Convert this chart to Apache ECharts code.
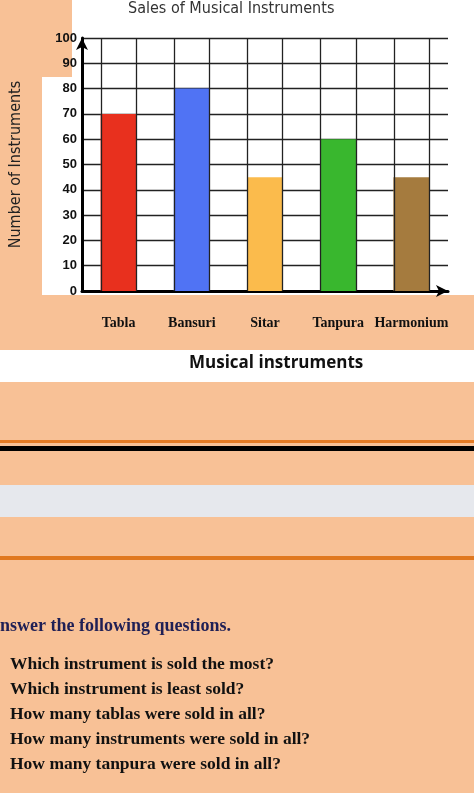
<!DOCTYPE html>
<html>
<head>
<meta charset="utf-8">
<script src="https://cdn.jsdelivr.net/npm/echarts@6/dist/echarts.min.js"></script>
<style>
    html, body {margin: 0; padding: 0; background: #f8c196;}
    .bg {position: absolute;}
    #main {position: absolute; left: 0; top: 0; width: 474px; height: 793px;}
</style>
</head>
<body>
<!-- 背景色块 -->
<div class="bg" style="left:72px;top:0;width:402px;height:295px;background:#fff"></div>
<div class="bg" style="left:42px;top:77px;width:30px;height:218px;background:#fff"></div>
<div class="bg" style="left:0;top:350px;width:474px;height:32px;background:#fff"></div>
<div class="bg" style="left:0;top:440px;width:474px;height:3px;background:#e47b25"></div>
<div class="bg" style="left:0;top:446px;width:474px;height:5px;background:#000"></div>
<div class="bg" style="left:0;top:485px;width:474px;height:32px;background:#e6e8ed"></div>
<div class="bg" style="left:0;top:556px;width:474px;height:4px;background:#e07820"></div>
<div id="main"></div>
<script>
var categories = ['Tabla', 'Bansuri', 'Sitar', 'Tanpura', 'Harmonium'];
var sales = [70, 80, 45, 60, 45];
var barColors = ['#e8301e', '#5073f4', '#fbbb4c', '#39b72e', '#a57b3e'];
var questions = [
    'Which instrument is sold the most?',
    'Which instrument is least sold?',
    'How many tablas were sold in all?',
    'How many instruments were sold in all?',
    'How many tanpura were sold in all?'
];

var chart = echarts.init(document.getElementById('main'));

//竖向网格线：每根柱子的左右边
var edgeLines = [];
categories.forEach(function (c, i) {
    edgeLines.push({xAxis: i - 0.24}, {xAxis: i + 0.24});
});

var graphics = [
    {type: 'text', left: 128, top: 1, style: {text: 'Sales of Musical Instruments', fill: '#333',
        font: '16px "DejaVu Sans Condensed"'}},
    {type: 'text', left: 189, top: 355, style: {text: 'Musical instruments', fill: '#111',
        font: 'bold 17px "Open Sans"'}},
    {type: 'text', left: 0, top: 617, style: {text: 'nswer the following questions.', fill: '#1f1f55',
        font: 'bold 18px "Liberation Serif"'}}
];
questions.forEach(function (q, i) {
    graphics.push({type: 'text', left: 10, top: 655 + i * 25.2,
        style: {text: q, fill: '#111', font: 'bold 17.5px "Liberation Serif"'}});
});

var option = {
    animation: false,
    grid: {left: 76, right: 26, top: 38, bottom: 502},
    graphic: graphics,
    xAxis: [
        {
            type: 'category',
            data: categories,
            axisLine: {lineStyle: {color: '#000', width: 3}, symbol: ['none', 'arrow'], symbolSize: [9, 12]},
            axisTick: {show: false},
            axisLabel: {interval: 0, color: '#111', fontWeight: 'bold', fontSize: 14, fontFamily: 'Liberation Sans Narrow', margin: 25}
        },
        {
            type: 'value', min: -0.5, max: 4.5, show: false
        }
    ],
    yAxis: {
        type: 'value', min: 0, max: 100, interval: 10,
        name: 'Number of Instruments', nameLocation: 'middle', nameGap: 58, nameRotate: 90,
        nameTextStyle: {color: '#222', fontSize: 16, fontFamily: 'DejaVu Sans Condensed'},
        axisLine: {show: true, onZero: false, lineStyle: {color: '#000', width: 3}, symbol: ['none', 'arrow'], symbolSize: [9, 12]},
        axisTick: {show: false},
        axisLabel: {color: '#111', fontWeight: 'bold', fontSize: 13, fontFamily: 'Liberation Sans', margin: 5},
        splitLine: {lineStyle: {color: '#222', width: 1.3}}
    },
    series: [
        {
            type: 'bar',
            barWidth: 36,
            z: 3,
            data: sales.map(function (v, i) {
                return {value: v, itemStyle: {color: barColors[i]}};
            })
        },
        {
            type: 'line',
            xAxisIndex: 1,
            data: [],
            markLine: {
                silent: true, symbol: 'none', label: {show: false},
                lineStyle: {color: '#222', width: 1.3, type: 'solid'},
                data: edgeLines
            }
        }
    ]
};
chart.setOption(option);
</script>
</body>
</html>
